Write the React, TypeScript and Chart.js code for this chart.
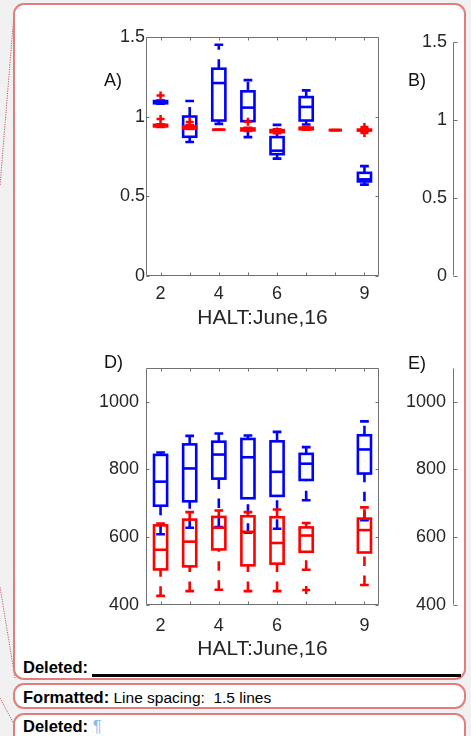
import React, { useEffect, useRef } from 'react';
import { Chart, registerables } from 'chart.js';

Chart.register(...registerables);

const FONT = "'Liberation Sans', Arial, Helvetica, sans-serif";
const TEXT = '#262626';
const AXIS = '#707070';
const BLUE = '#0000ff';
const RED = '#ff0000';

// ---------- shared axis data ----------
const positions = [2, 3, 4, 5, 6, 7, 8, 9];
const xTickLabels = ['2', '', '4', '', '6', '', '', '9'];
const xTitle = 'HALT:June,16';
const topYTicks = [0, 0.5, 1, 1.5];
const bottomYTicks = [400, 600, 800, 1000];

// ---------- Panel A (ratio, 0..1.5) ----------
const aBluePos = [2, 3, 4, 5, 6, 7, 9];
const aBlueLo = [1.08, 0.84, 0.954, 0.871, 0.736, 0.95, 0.573];
const aBlueQ1 = [1.083, 0.873, 0.975, 0.971, 0.764, 0.975, 0.593];
const aBlueMed = [1.09, 0.93, 1.21, 1.056, 0.786, 1.06, 0.606];
const aBlueQ3 = [1.097, 1.0, 1.3, 1.158, 0.871, 1.122, 0.647];
const aBlueHi = [1.1, 1.097, 1.45, 1.228, 0.948, 1.164, 0.689];

const aRedPos = [2, 3, 4, 5, 6, 7, 8, 9];
const aRedLo = [0.935, 0.922, 0.917, 0.91, 0.895, 0.918, 0.915, 0.91];
const aRedQ1 = [0.938, 0.925, 0.917, 0.913, 0.902, 0.92, 0.915, 0.912];
const aRedMed = [0.942, 0.93, 0.917, 0.918, 0.908, 0.924, 0.915, 0.915];
const aRedQ3 = [0.948, 0.938, 0.917, 0.925, 0.915, 0.93, 0.915, 0.918];
const aRedHi = [0.952, 0.945, 0.917, 0.93, 0.92, 0.933, 0.915, 0.922];
const aRedOutX = [2, 2, 3, 5, 9, 9];
const aRedOutY = [1.132, 0.985, 0.966, 0.968, 0.935, 0.897];

// ---------- Panel D (400..1100) ----------
const dBluePos = [2, 3, 4, 5, 6, 7, 9];
const dBlueLo = [609, 628, 630, 613, 625, 709, 650];
const dBlueQ1 = [693, 706, 773, 715, 722, 769, 788];
const dBlueMed = [764, 803, 844, 836, 793, 817, 859];
const dBlueQ3 = [843, 874, 882, 890, 883, 846, 901];
const dBlueHi = [850, 899, 906, 900, 911, 866, 942];

const dRedPos = [2, 3, 4, 5, 6, 7, 9];
const dRedLo = [427, 441, 445, 441, 441, 504, 459];
const dRedQ1 = [505, 514, 564, 517, 522, 557, 555];
const dRedMed = [563, 587, 628, 616, 583, 605, 621];
const dRedQ3 = [635, 652, 660, 662, 659, 629, 655];
const dRedHi = [640, 674, 679, 674, 682, 642, 688];
const dRedOutX = [7];
const dRedOutY = [444];

type Series = {
  pos: number[]; lo: number[]; q1: number[]; med: number[]; q3: number[]; hi: number[]; color: string;
};

const BOX_W = 0.45;
const CAP_W = 0.3;
const LW = 2.6;
const DASH = [9.5, 9.5];
const TICK_LEN = 3;

function makePlugin(series: Series[], frame: 'box' | 'left', xTicks: number[], yTicks: number[]) {
  return {
    id: 'boxplots',
    beforeDatasetsDraw(chart: any) {
      const { ctx } = chart;
      const xs = chart.scales.x;
      const ys = chart.scales.y;
      ctx.save();
      ctx.lineCap = 'butt';
      for (const s of series) {
        ctx.strokeStyle = s.color;
        ctx.lineWidth = LW;
        s.pos.forEach((p, i) => {
          const x = xs.getPixelForValue(p);
          const hw = xs.getPixelForValue(p + BOX_W / 2) - x;
          const cw = xs.getPixelForValue(p + CAP_W / 2) - x;
          const yLo = ys.getPixelForValue(s.lo[i]);
          const yQ1 = ys.getPixelForValue(s.q1[i]);
          const yMed = ys.getPixelForValue(s.med[i]);
          const yQ3 = ys.getPixelForValue(s.q3[i]);
          const yHi = ys.getPixelForValue(s.hi[i]);
          // whiskers, dashed, drawn from lower value to higher value
          ctx.setLineDash(DASH);
          ctx.beginPath(); ctx.moveTo(x, yLo); ctx.lineTo(x, yQ1); ctx.stroke();
          ctx.beginPath(); ctx.moveTo(x, yQ3); ctx.lineTo(x, yHi); ctx.stroke();
          ctx.setLineDash([]);
          // caps
          ctx.beginPath();
          ctx.moveTo(x - cw, yLo); ctx.lineTo(x + cw, yLo);
          ctx.moveTo(x - cw, yHi); ctx.lineTo(x + cw, yHi);
          ctx.stroke();
          // box
          ctx.strokeRect(x - hw, yQ3, 2 * hw, yQ1 - yQ3);
          // median
          ctx.beginPath(); ctx.moveTo(x - hw, yMed); ctx.lineTo(x + hw, yMed); ctx.stroke();
        });
      }
      ctx.restore();
    },
    afterDraw(chart: any) {
      const { ctx, chartArea } = chart;
      const xs = chart.scales.x;
      const ys = chart.scales.y;
      const L = Math.round(chartArea.left) + 0.5;
      const R = Math.round(chartArea.right) - 0.5;
      const T = Math.round(chartArea.top) + 0.5;
      const B = Math.round(chartArea.bottom) - 0.5;
      ctx.save();
      ctx.strokeStyle = AXIS;
      ctx.lineWidth = 1;
      ctx.setLineDash([]);
      ctx.beginPath();
      if (frame === 'box') {
        ctx.rect(L, T, R - L, B - T);
        for (const xt of xTicks) {
          const px = Math.round(xs.getPixelForValue(xt)) + 0.5;
          ctx.moveTo(px, B); ctx.lineTo(px, B - TICK_LEN);
          ctx.moveTo(px, T); ctx.lineTo(px, T + TICK_LEN);
        }
        for (const yt of yTicks) {
          const py = Math.round(ys.getPixelForValue(yt)) + 0.5;
          ctx.moveTo(L, py); ctx.lineTo(L + TICK_LEN, py);
          ctx.moveTo(R, py); ctx.lineTo(R - TICK_LEN, py);
        }
      } else {
        ctx.moveTo(L, T); ctx.lineTo(L, B);
        for (const yt of yTicks) {
          const py = Math.round(ys.getPixelForValue(yt)) + 0.5;
          ctx.moveTo(L, py); ctx.lineTo(L + TICK_LEN + 1, py);
        }
      }
      ctx.stroke();
      ctx.restore();
    },
  };
}

function outliers(xs: number[], ys: number[]) {
  return xs.map((x, i) => ({ x, y: ys[i] }));
}

type PanelOpts = {
  series: Series[];
  outX: number[];
  outY: number[];
  yMin: number;
  yMax: number;
  yTicks: number[];
  frame: 'box' | 'left';
  padTop: number;
  padRight: number;
  padBottom: number;
  yWidth: number;
  yPad: number;
  xHeight: number;
  xPad: number;
  titlePad: number;
};

function makeConfig(o: PanelOpts): any {
  const full = o.frame === 'box';
  return {
    type: 'scatter',
    data: {
      datasets: [
        {
          data: outliers(o.outX, o.outY),
          pointStyle: 'cross',
          pointRadius: 4,
          pointBorderWidth: 2.5,
          borderColor: RED,
          backgroundColor: RED,
          borderWidth: 2.5,
        },
      ],
    },
    options: {
      animation: false,
      responsive: false,
      maintainAspectRatio: false,
      events: [],
      layout: { padding: { left: 0, right: o.padRight, top: o.padTop, bottom: o.padBottom } },
      plugins: { legend: { display: false }, tooltip: { enabled: false } },
      scales: {
        x: {
          type: 'linear',
          display: full,
          min: 1.5,
          max: 9.5,
          grid: { display: false, drawTicks: false },
          border: { display: false },
          afterBuildTicks: (s: any) => { s.ticks = positions.map((v) => ({ value: v })); },
          afterFit: (s: any) => { s.height = o.xHeight; },
          ticks: {
            autoSkip: false,
            maxRotation: 0,
            minRotation: 0,
            padding: o.xPad,
            color: TEXT,
            font: { family: FONT, size: 18 },
            callback: (v: number) => xTickLabels[positions.indexOf(v)] ?? '',
          },
          title: {
            display: true,
            text: xTitle,
            color: TEXT,
            font: { family: FONT, size: 21 },
            padding: { top: 0, bottom: o.titlePad },
          },
        },
        y: {
          type: 'linear',
          min: o.yMin,
          max: o.yMax,
          grid: { display: false, drawTicks: false },
          border: { display: false },
          afterBuildTicks: (s: any) => { s.ticks = o.yTicks.map((v) => ({ value: v })); },
          afterFit: (s: any) => { s.width = o.yWidth; },
          ticks: {
            autoSkip: false,
            padding: o.yPad,
            color: TEXT,
            font: { family: FONT, size: 18 },
            callback: (v: number) => String(v),
          },
        },
      },
    },
    plugins: [makePlugin(o.series, o.frame, positions, o.yTicks)],
  };
}

const aSeries: Series[] = [
  { pos: aBluePos, lo: aBlueLo, q1: aBlueQ1, med: aBlueMed, q3: aBlueQ3, hi: aBlueHi, color: BLUE },
  { pos: aRedPos, lo: aRedLo, q1: aRedQ1, med: aRedMed, q3: aRedQ3, hi: aRedHi, color: RED },
];
const dSeries: Series[] = [
  { pos: dBluePos, lo: dBlueLo, q1: dBlueQ1, med: dBlueMed, q3: dBlueQ3, hi: dBlueHi, color: BLUE },
  { pos: dRedPos, lo: dRedLo, q1: dRedQ1, med: dRedMed, q3: dRedQ3, hi: dRedHi, color: RED },
];

function ChartBox(props: { config: any; left: number; top: number; width: number; height: number }) {
  const ref = useRef<HTMLCanvasElement>(null);
  useEffect(() => {
    const chart = new Chart(ref.current as HTMLCanvasElement, props.config);
    return () => chart.destroy();
  }, []);
  return (
    <canvas
      ref={ref}
      width={props.width}
      height={props.height}
      style={{ position: 'absolute', left: props.left, top: props.top, width: props.width, height: props.height }}
    />
  );
}

const panelA = makeConfig({
  series: aSeries, outX: aRedOutX, outY: aRedOutY, yMin: 0, yMax: 1.5, yTicks: topYTicks, frame: 'box',
  padTop: 10, padRight: 11, padBottom: 0, yWidth: 56, yPad: 1, xHeight: 64, xPad: 7, titlePad: 9,
});
const panelB = makeConfig({
  series: [], outX: [], outY: [], yMin: 0, yMax: 1.5, yTicks: topYTicks, frame: 'left',
  padTop: 10, padRight: 0, padBottom: 64, yWidth: 58, yPad: 6, xHeight: 0, xPad: 0, titlePad: 0,
});
const panelD = makeConfig({
  series: dSeries, outX: dRedOutX, outY: dRedOutY, yMin: 400, yMax: 1100, yTicks: bottomYTicks, frame: 'box',
  padTop: 15, padRight: 11, padBottom: 0, yWidth: 56, yPad: 7, xHeight: 60, xPad: 10, titlePad: 3,
});
const panelE = makeConfig({
  series: [], outX: [], outY: [], yMin: 400, yMax: 1100, yTicks: bottomYTicks, frame: 'left',
  padTop: 15, padRight: 0, padBottom: 60, yWidth: 58, yPad: 7, xHeight: 0, xPad: 0, titlePad: 0,
});

const BORDER = '2px solid #e27d7d';
const WORD_FONT = "'Liberation Sans', Arial, sans-serif";

function Letter(props: { text: string; left: number; top: number }) {
  return (
    <div
      style={{
        position: 'absolute', left: props.left, top: props.top, fontFamily: FONT, fontSize: 18,
        lineHeight: '18px', color: '#111', whiteSpace: 'pre',
      }}
    >
      {props.text}
    </div>
  );
}

export default function App() {
  return (
    <div
      style={{
        position: 'absolute', left: 0, top: 0, width: 471, height: 736, overflow: 'hidden',
        background: '#f1f1f1',
      }}
    >
      <svg width={471} height={736} style={{ position: 'absolute', left: 0, top: 0 }}>
        <g stroke="#d65555" strokeWidth={1} strokeDasharray="1.2 1.2" fill="none">
          <line x1={14} y1={14} x2={0} y2={186} />
          <line x1={0} y1={587} x2={15} y2={678} />
          <line x1={0} y1={698} x2={15} y2={726} />
        </g>
      </svg>
      {/* main comment balloon with the figure */}
      <div
        style={{
          position: 'absolute', left: 13, top: 3, width: 453, height: 677, boxSizing: 'border-box',
          border: BORDER, borderRadius: 11, background: '#ffffff',
        }}
      />
      <div
        style={{
          position: 'absolute', left: 13, top: 683, width: 453, height: 26, boxSizing: 'border-box',
          border: BORDER, borderRadius: 11, background: '#ffffff',
        }}
      />
      <div
        style={{
          position: 'absolute', left: 13, top: 713, width: 453, height: 40, boxSizing: 'border-box',
          border: BORDER, borderRadius: 11, background: '#ffffff',
        }}
      />

      <ChartBox config={panelA} left={90} top={25} width={300} height={315} />
      <ChartBox config={panelB} left={395} top={25} width={63} height={315} />
      <ChartBox config={panelD} left={90} top={350} width={300} height={315} />
      <ChartBox config={panelE} left={395} top={350} width={63} height={315} />

      <Letter text="A)" left={104} top={71} />
      <Letter text="B)" left={408} top={71} />
      <Letter text="D)" left={104} top={353} />
      <Letter text="E)" left={408} top={354} />

      <div
        style={{
          position: 'absolute', left: 23, top: 659, fontFamily: WORD_FONT, fontSize: 16.5,
          lineHeight: '16px', fontWeight: 'bold', color: '#000', whiteSpace: 'pre',
        }}
      >
        Deleted:
      </div>
      <div style={{ position: 'absolute', left: 92, top: 674, width: 369, height: 2.5, background: '#000' }} />

      <div
        style={{
          position: 'absolute', left: 23, top: 689, fontFamily: WORD_FONT, fontSize: 16.5,
          lineHeight: '16px', color: '#000', whiteSpace: 'pre',
        }}
      >
        <span style={{ fontWeight: 'bold' }}>Formatted:</span>
        <span style={{ fontSize: 15.5 }}> Line spacing:  1.5 lines</span>
      </div>

      <div
        style={{
          position: 'absolute', left: 23, top: 717.5, fontFamily: WORD_FONT, fontSize: 16.5,
          lineHeight: '16px', color: '#000', whiteSpace: 'pre',
        }}
      >
        <span style={{ fontWeight: 'bold' }}>Deleted:</span>
        <span style={{ color: '#86bdf0' }}> ¶</span>
      </div>
    </div>
  );
}
